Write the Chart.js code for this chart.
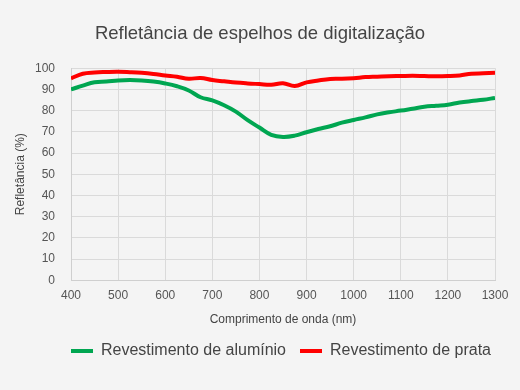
<!DOCTYPE html>
<html>
<head>
<meta charset="utf-8">
<script src="https://cdn.jsdelivr.net/npm/chart.js@4/dist/chart.umd.min.js"></script>
<style>
  html, body { margin: 0; padding: 0; background: #f4f4f4; }
  #wrap { width: 520px; height: 390px; }
</style>
</head>
<body>
<div id="wrap"><canvas id="c" width="520" height="390"></canvas></div>
<script>
const wavelengths = [400,425,450,475,500,525,550,575,600,625,650,675,700,725,750,775,800,825,850,875,900,925,950,975,1000,1025,1050,1075,1100,1125,1150,1175,1200,1225,1250,1275,1300];
const aluminio = [90,91.8,93.4,93.7,94.2,94.4,94.2,93.7,92.8,91.5,89.5,86.3,84.8,82.5,79.5,75.5,72,68.6,67.6,68.2,69.8,71.3,72.6,74.3,75.6,76.8,78.2,79.2,80,80.9,81.8,82.3,82.8,83.8,84.5,85.1,86];
const prata = [95.2,97.4,98,98.2,98.3,98.1,97.8,97.3,96.6,96,95,95.4,94.4,93.8,93.2,92.8,92.5,92.2,92.9,91.6,93.3,94.2,94.9,95,95.3,95.8,96,96.2,96.3,96.4,96.3,96.2,96.3,96.6,97.4,97.6,97.8];
const xTicks = [400,500,600,700,800,900,1000,1100,1200,1300];
const yTicks = [0,10,20,30,40,50,60,70,80,90,100];
const seriesNames = ['Revestimento de alumínio', 'Revestimento de prata'];
const titleText = 'Refletância de espelhos de digitalização';
const xTitle = 'Comprimento de onda (nm)';
const yTitle = 'Refletância (%)';

const FONT = '"Liberation Sans", Arial, Helvetica, sans-serif';
const toXY = arr => arr.map((v, i) => ({ x: wavelengths[i], y: v }));

const bgPlugin = {
  id: 'bg',
  beforeDraw(chart) {
    const ctx = chart.ctx;
    ctx.save();
    ctx.fillStyle = '#f4f4f4';
    ctx.fillRect(0, 0, chart.width, chart.height);
    ctx.restore();
  },
  afterLayout(chart) {
    if (chart.titleBlock) {
      chart.titleBlock.left = 0;
      chart.titleBlock.right = chart.width;
      chart.titleBlock.width = chart.width;
    }
    if (chart.legend) {
      chart.legend.left += 27;
      chart.legend.right += 27;
    }
  }
};

new Chart(document.getElementById('c'), {
  type: 'line',
  data: {
    datasets: [
      { label: seriesNames[0], data: toXY(aluminio), borderColor: '#00a651', backgroundColor: '#00a651', borderWidth: 4, pointRadius: 0, tension: 0.4 },
      { label: seriesNames[1], data: toXY(prata), borderColor: '#ff0000', backgroundColor: '#ff0000', borderWidth: 4, pointRadius: 0, tension: 0.4 }
    ]
  },
  options: {
    responsive: false,
    animation: false,
    layout: { padding: { left: 13, right: 25, top: 23, bottom: 21 } },
    plugins: {
      title: {
        display: true, text: titleText, color: '#444',
        font: { family: FONT, size: 18.5, weight: 'normal' },
        padding: { top: 0, bottom: 23 }
      },
      legend: {
        position: 'bottom',
        labels: {
          color: '#444', boxWidth: 22, boxHeight: 4,
          font: { family: FONT, size: 16 }, padding: 14,
          generateLabels(chart) {
            const items = Chart.defaults.plugins.legend.labels.generateLabels(chart);
            items.forEach(it => { it.lineWidth = 0; });
            return items;
          }
        }
      },
      tooltip: { enabled: false }
    },
    scales: {
      x: {
        type: 'linear', min: 400, max: 1300,
        afterBuildTicks: axis => { axis.ticks = xTicks.map(v => ({ value: v })); },
        ticks: { color: '#555', font: { family: FONT, size: 12 }, padding: 8, maxRotation: 0, callback: v => String(v) },
        grid: { color: '#dadada', drawTicks: false },
        border: { color: '#cfcfcf' },
        title: { display: true, text: xTitle, color: '#444', font: { family: FONT, size: 12 }, padding: { top: 2, bottom: 2 } }
      },
      y: {
        min: 0, max: 100,
        afterBuildTicks: axis => { axis.ticks = yTicks.map(v => ({ value: v })); },
        afterFit: axis => { axis.width = 58; },
        ticks: { color: '#555', font: { family: FONT, size: 12 }, padding: 16, callback: v => String(v) },
        grid: { color: '#dadada', drawTicks: false },
        border: { color: '#cfcfcf' },
        title: { display: true, text: yTitle, color: '#444', font: { family: FONT, size: 12 }, padding: { top: 0, bottom: 4 } }
      }
    }
  },
  plugins: [bgPlugin]
});
</script>
</body>
</html>
